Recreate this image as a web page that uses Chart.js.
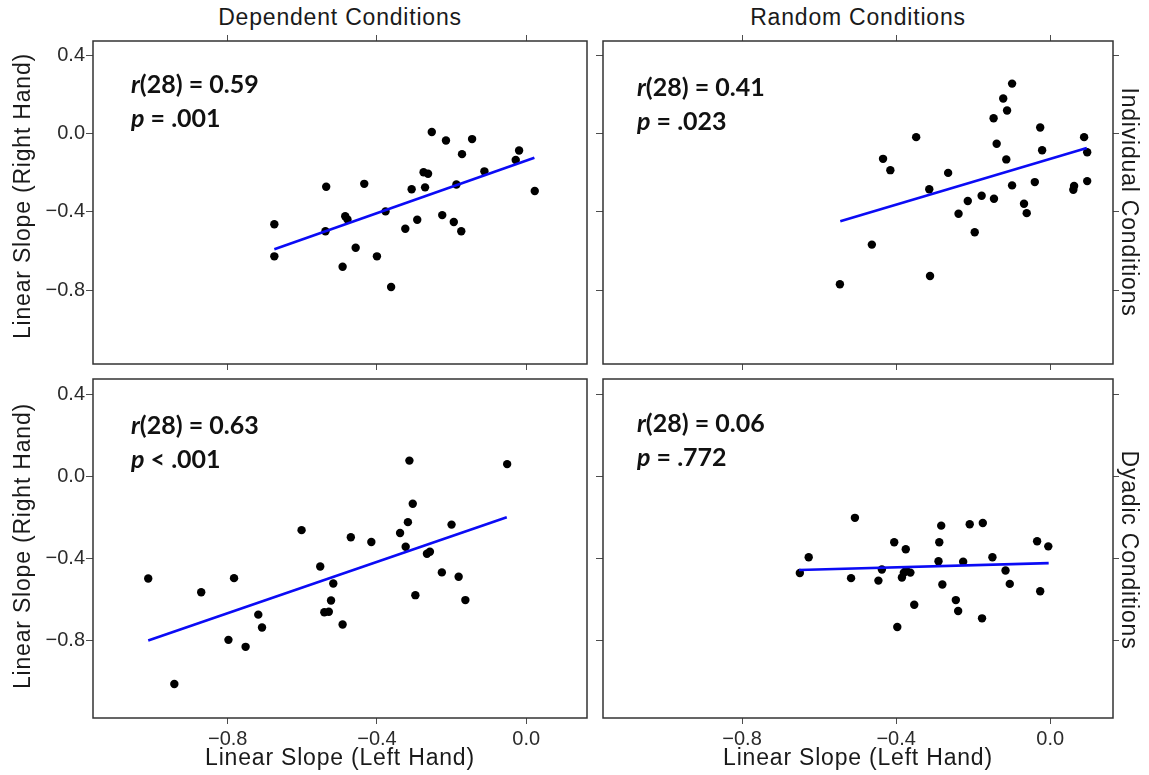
<!doctype html>
<html>
<head>
<meta charset="UTF-8">
<title>Linear slopes: left vs right hand</title>
<script src="https://cdn.jsdelivr.net/npm/chart.js@4.4.1/dist/chart.umd.min.js"></script>
<style>
  body { margin: 0; background: #fff; }
  #page { position: relative; width: 1149px; height: 775px; overflow: hidden;
          font-family: "Liberation Sans", Arial, sans-serif; color: #1a1a1a; }
  .panel { position: absolute; }
  .lbl { position: absolute; font-size: 23px; line-height: 1; white-space: nowrap; letter-spacing: 0.8px; }
  .stat { position: absolute; font-family: Lato, sans-serif; font-weight: bold; font-size: 25px;
          line-height: 34px; white-space: nowrap; color: #111; }
</style>
</head>
<body>
<div id="page"></div>
<script>
// tick values and axis ranges (shared by all facets)
var xTicks = [-0.8, -0.4, 0.0];
var yTicks = [0.4, 0.0, -0.4, -0.8];
var xRange = [-1.161, 0.163];
var yRange = [-1.178, 0.475];

// facet labels
var colLabels = ['Dependent Conditions', 'Random Conditions'];
var rowLabels = ['Individual Conditions', 'Dyadic Conditions'];
var xTitle = 'Linear Slope (Left Hand)';
var yTitle = 'Linear Slope (Right Hand)';

// Dependent / Individual
var depIndLeft  = [-0.675,-0.675,-0.536,-0.538,-0.434,-0.485,-0.479,-0.457,-0.492,-0.400,-0.377,-0.362,-0.324,-0.307,-0.292,-0.271,-0.275,-0.263,-0.253,-0.225,-0.215,-0.194,-0.174,-0.187,-0.172,-0.145,-0.112,-0.019,-0.028,0.023];
var depIndRight = [-0.463,-0.627,-0.271,-0.499,-0.256,-0.422,-0.438,-0.583,-0.680,-0.627,-0.397,-0.784,-0.486,-0.284,-0.440,-0.274,-0.197,-0.204,0.009,-0.416,-0.034,-0.451,-0.499,-0.259,-0.104,-0.027,-0.192,-0.085,-0.134,-0.293];
var depIndFitX = [-0.675, 0.022];
var depIndFitY = [-0.591, -0.122];

// Random / Individual
var rndIndLeft  = [-0.546,-0.463,-0.434,-0.415,-0.348,-0.314,-0.312,-0.265,-0.238,-0.214,-0.196,-0.178,-0.146,-0.147,-0.139,-0.122,-0.112,-0.099,-0.114,-0.099,-0.068,-0.061,-0.040,-0.026,-0.021,0.060,0.062,0.088,0.096,0.096];
var rndIndRight = [-0.770,-0.567,-0.128,-0.186,-0.017,-0.284,-0.728,-0.200,-0.409,-0.344,-0.504,-0.317,-0.332,0.080,-0.051,0.181,0.119,0.257,-0.131,-0.264,-0.358,-0.406,-0.247,0.032,-0.084,-0.286,-0.267,-0.017,-0.094,-0.242];
var rndIndFitX = [-0.545, 0.095];
var rndIndFitY = [-0.448, -0.072];

// Dependent / Dyadic
var depDyaLeft  = [-1.013,-0.943,-0.871,-0.783,-0.798,-0.752,-0.718,-0.708,-0.602,-0.552,-0.517,-0.523,-0.541,-0.529,-0.492,-0.470,-0.415,-0.338,-0.323,-0.317,-0.304,-0.313,-0.297,-0.266,-0.258,-0.226,-0.200,-0.181,-0.163,-0.051];
var depDyaRight = [-0.498,-1.012,-0.565,-0.496,-0.797,-0.831,-0.674,-0.737,-0.262,-0.439,-0.522,-0.605,-0.662,-0.660,-0.722,-0.297,-0.320,-0.276,-0.343,-0.223,-0.133,0.077,-0.579,-0.377,-0.367,-0.468,-0.235,-0.489,-0.603,0.060];
var depDyaFitX = [-1.013, -0.052];
var depDyaFitY = [-0.800, -0.199];

// Random / Dyadic
var rndDyaLeft  = [-0.650,-0.627,-0.507,-0.517,-0.446,-0.437,-0.405,-0.375,-0.385,-0.374,-0.363,-0.353,-0.397,-0.290,-0.288,-0.283,-0.280,-0.245,-0.239,-0.226,-0.209,-0.175,-0.177,-0.150,-0.116,-0.105,-0.034,-0.005,-0.026,-0.380];
var rndDyaRight = [-0.471,-0.394,-0.202,-0.496,-0.508,-0.454,-0.321,-0.355,-0.493,-0.459,-0.469,-0.626,-0.734,-0.414,-0.321,-0.240,-0.527,-0.603,-0.656,-0.416,-0.233,-0.227,-0.692,-0.394,-0.459,-0.524,-0.316,-0.341,-0.560,-0.470];
var rndDyaFitX = [-0.652, -0.004];
var rndDyaFitY = [-0.456, -0.423];

// correlation text per panel
var statR = ['0.59', '0.41', '0.63', '0.06'];
var statP = ['= .001', '= .023', '< .001', '= .772'];

var page = document.getElementById('page');
var tickFont = { family: '"Liberation Sans", Arial, sans-serif', size: 20 };
var tickColor = '#2b2b2b';
var lineColor = '#4d4d4d';
var mL = 70, mR = 8, mT = 8, mB = 48;

function fmt(v) {
	var s = Math.abs(v).toFixed(1);
	return (v < -1e-9 ? '\u2212' : '') + s;
}

function setTicks(list) {
	return function (scale) {
		scale.ticks = list.map(function (v) { return { value: v }; });
	};
}

// fix an axis box size and drop the extra room chart.js keeps for edge labels
function fixSize(prop, size) {
	return function (s) {
		s[prop] = size;
		s.paddingTop = 0; s.paddingBottom = 0;
		s.paddingLeft = 0; s.paddingRight = 0;
	};
}

function pairs(xs, ys) {
	var out = [];
	for (var i = 0; i < xs.length; i++) out.push({ x: xs[i], y: ys[i] });
	return out;
}

var boxBorder = {
	id: 'boxBorder',
	afterDatasetsDraw: function (chart) {
		var a = chart.chartArea, ctx = chart.ctx;
		ctx.save();
		ctx.strokeStyle = '#333';
		ctx.lineWidth = 1.5;
		ctx.strokeRect(a.left, a.top, a.right - a.left, a.bottom - a.top);
		ctx.restore();
	}
};

function addText(cls, text, css) {
	var d = document.createElement('div');
	d.className = cls;
	d.innerHTML = text;
	for (var k in css) d.style[k] = css[k];
	page.appendChild(d);
	return d;
}

function makePanel(p) {
	var L = p.box[0], T = p.box[1], R = p.box[2], B = p.box[3];
	var w = R - L + mL + mR, h = B - T + mT + mB;
	var holder = document.createElement('div');
	holder.className = 'panel';
	holder.style.left = (L - mL) + 'px';
	holder.style.top = (T - mT) + 'px';
	var cv = document.createElement('canvas');
	cv.width = w; cv.height = h;
	holder.appendChild(cv);
	page.appendChild(holder);

	var scales = {
		x: {
			type: 'linear', position: 'bottom', min: xRange[0], max: xRange[1],
			afterBuildTicks: setTicks(xTicks),
			ticks: { display: p.xLabels, font: tickFont, color: tickColor, padding: 3, callback: fmt },
			grid: { drawOnChartArea: false, tickLength: 6, color: lineColor },
			border: { display: false },
			afterFit: fixSize('height', mB)
		},
		y: {
			type: 'linear', position: 'left', min: yRange[0], max: yRange[1],
			afterBuildTicks: setTicks(yTicks),
			ticks: { display: p.yLabels, font: tickFont, color: tickColor, padding: 1, callback: fmt },
			grid: { drawOnChartArea: false, tickLength: 7, color: lineColor },
			border: { display: false },
			afterFit: fixSize('width', mL)
		}
	};
	var pad = { left: 0, right: mR, top: mT, bottom: 0 };
	if (p.top) {
		scales.x2 = {
			type: 'linear', position: 'top', min: xRange[0], max: xRange[1],
			afterBuildTicks: setTicks(xTicks),
			ticks: { display: false },
			grid: { drawOnChartArea: false, tickLength: 6, color: lineColor },
			border: { display: false },
			afterFit: fixSize('height', mT)
		};
		pad.top = 0;
	}
	if (p.right) {
		scales.y2 = {
			type: 'linear', position: 'right', min: yRange[0], max: yRange[1],
			afterBuildTicks: setTicks(yTicks),
			ticks: { display: false },
			grid: { drawOnChartArea: false, tickLength: 6, color: lineColor },
			border: { display: false },
			afterFit: fixSize('width', mR)
		};
		pad.right = 0;
	}

	new Chart(cv.getContext('2d'), {
		type: 'scatter',
		data: {
			datasets: [
				{
					type: 'line',
					data: pairs(p.fitX, p.fitY),
					borderColor: '#0b0bf5',
					borderWidth: 2.6,
					pointRadius: 0,
					fill: false
				},
				{
					data: pairs(p.xs, p.ys),
					backgroundColor: '#000',
					borderWidth: 0,
					pointRadius: 4.2
				}
			]
		},
		options: {
			responsive: false,
			animation: false,
			devicePixelRatio: 1,
			layout: { padding: pad },
			plugins: { legend: { display: false }, tooltip: { enabled: false } },
			scales: scales
		},
		plugins: [boxBorder]
	});

	var tx = p.statPos[0], ty = p.statPos[1];
	addText('stat', '<i>r</i>(28) = ' + statR[p.idx] + '<br><i>p</i> ' + statP[p.idx],
		{ left: tx + 'px', top: ty + 'px' });
}

makePanel({ idx: 0, box: [93, 41, 587, 364], xs: depIndLeft, ys: depIndRight, fitX: depIndFitX, fitY: depIndFitY,
	xLabels: false, yLabels: true, top: true, right: false, statPos: [131, 66] });
makePanel({ idx: 1, box: [603, 41, 1113, 364], xs: rndIndLeft, ys: rndIndRight, fitX: rndIndFitX, fitY: rndIndFitY,
	xLabels: false, yLabels: false, top: true, right: true, statPos: [637, 69] });
makePanel({ idx: 2, box: [93, 379, 587, 718], xs: depDyaLeft, ys: depDyaRight, fitX: depDyaFitX, fitY: depDyaFitY,
	xLabels: true, yLabels: true, top: false, right: false, statPos: [131, 407] });
makePanel({ idx: 3, box: [603, 379, 1113, 718], xs: rndDyaLeft, ys: rndDyaRight, fitX: rndDyaFitX, fitY: rndDyaFitY,
	xLabels: true, yLabels: false, top: false, right: true, statPos: [637, 405] });

// strip labels on top and right
addText('lbl', colLabels[0], { left: '340px', top: '6px', transform: 'translateX(-50%)' });
addText('lbl', colLabels[1], { left: '858px', top: '6px', transform: 'translateX(-50%)' });
addText('lbl', rowLabels[0], { left: '1129px', top: '202px', transform: 'translate(-50%,-50%) rotate(90deg)' });
addText('lbl', rowLabels[1], { left: '1129px', top: '550px', transform: 'translate(-50%,-50%) rotate(90deg)' });

// axis titles
addText('lbl', xTitle, { left: '340px', top: '746px', transform: 'translateX(-50%)' });
addText('lbl', xTitle, { left: '858px', top: '746px', transform: 'translateX(-50%)' });
addText('lbl', yTitle, { left: '22px', top: '196px', transform: 'translate(-50%,-50%) rotate(-90deg)' });
addText('lbl', yTitle, { left: '22px', top: '546px', transform: 'translate(-50%,-50%) rotate(-90deg)' });
</script>
</body>
</html>
